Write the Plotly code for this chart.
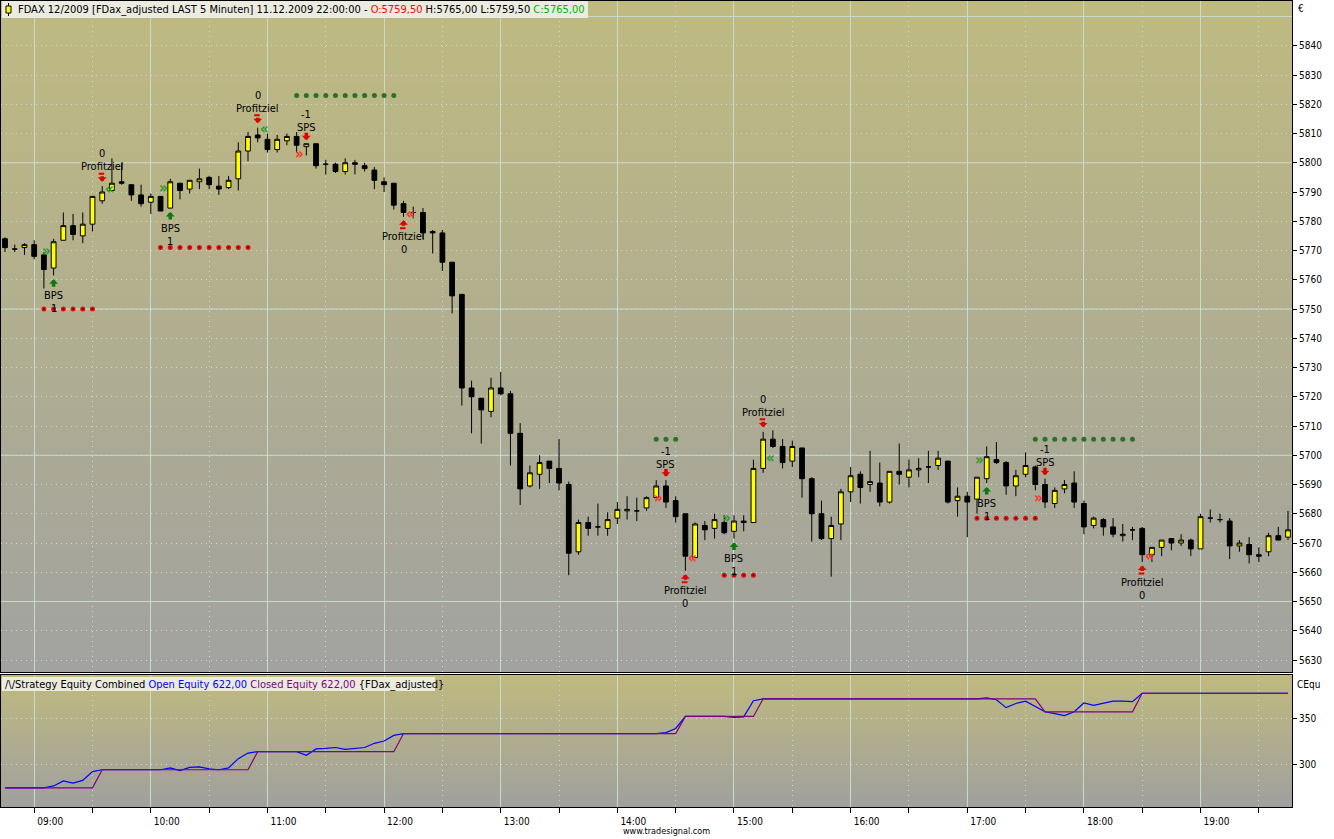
import plotly.graph_objects as go
import pandas as pd

# ---------------- data ----------------
start_time = "2009-12-11 08:45"

opens = [5774, 5770.5, 5771, 5772, 5768.5, 5764, 5773.5, 5778.5, 5775, 5779,
         5787, 5790.5, 5793.5, 5792.5, 5789, 5786.5, 5788.5, 5784.5, 5793, 5791,
         5793.5, 5795, 5792, 5791.5, 5794.5, 5804, 5809.5, 5808, 5804.5, 5807.5,
         5809, 5805.5, 5806.5, 5799.5, 5799.5, 5797, 5800, 5799, 5797.5, 5793.5,
         5793, 5786, 5783, 5783, 5776.5, 5776, 5766, 5755, 5723, 5719.5,
         5715, 5723, 5721, 5707.5, 5689.5, 5693.5, 5698, 5695.5, 5690, 5667,
         5677, 5675.5, 5675, 5678.5, 5681, 5681, 5682, 5685.5, 5689.5, 5684.5,
         5680, 5665, 5676, 5675, 5677, 5674, 5677.5, 5677, 5695.5, 5705.5,
         5703, 5698, 5702.5, 5692, 5680, 5671.5, 5676.5, 5687.5, 5693.5, 5690,
         5690.5, 5684, 5694.5, 5692.5, 5695, 5696, 5696.5, 5698, 5684.5, 5686,
         5685, 5692, 5698.5, 5697.5, 5689.5, 5693.5, 5696, 5690, 5683.5, 5688.5,
         5690.5, 5683.5, 5676, 5678, 5675.5, 5672.5, 5674.5, 5675, 5666, 5668.5,
         5671.5, 5670, 5671, 5668, 5678.5, 5678, 5677.5, 5669, 5669.5, 5666,
         5667, 5672.5, 5672]
highs = [5774.5, 5772, 5772.5, 5773.5, 5769.5, 5774, 5783, 5782.5, 5783, 5788.5,
         5792, 5801.5, 5800, 5792.5, 5792.5, 5789.5, 5788.5, 5794.5, 5793, 5794,
         5798, 5795.5, 5795.5, 5795.5, 5807, 5810.5, 5812, 5810, 5809.5, 5810,
         5810.5, 5806.5, 5806.5, 5801, 5800, 5801.5, 5801, 5800, 5798.5, 5795,
         5793, 5787, 5785, 5784.5, 5777, 5777, 5766, 5755, 5725.5, 5719.5,
         5726.5, 5728.5, 5722, 5711, 5696.5, 5700, 5698, 5705.5, 5691, 5678,
         5679, 5683.5, 5680.5, 5684, 5686, 5685.5, 5686, 5691.5, 5691.5, 5686,
         5680, 5677, 5677.5, 5680, 5679.5, 5679.5, 5679.5, 5698.5, 5708, 5708.5,
         5705.5, 5705, 5702.5, 5692.5, 5684.5, 5679, 5688.5, 5696, 5694.5, 5701.5,
         5697.5, 5694.5, 5704, 5698.5, 5699, 5701.5, 5701.5, 5698, 5689, 5687.5,
         5692.5, 5703, 5704.5, 5698, 5695, 5701, 5696.5, 5692, 5689, 5691.5,
         5694.5, 5684.5, 5679, 5678.5, 5678.5, 5676.5, 5675.5, 5675.5, 5668.5, 5671,
         5671.5, 5673, 5671.5, 5680, 5681.5, 5680, 5678.5, 5671, 5672, 5668.5,
         5673.5, 5675.5, 5681]
lows = [5769.5, 5769.5, 5768.5, 5767, 5757, 5761.5, 5773.5, 5773.5, 5772.5, 5776.5,
        5786, 5790.5, 5792.5, 5787, 5785, 5782.5, 5783.5, 5784.5, 5787.5, 5789.5,
        5791, 5791, 5789, 5791, 5790.5, 5800.5, 5807, 5803.5, 5803.5, 5806,
        5803.5, 5802.5, 5798, 5796, 5796.5, 5796, 5796, 5797, 5791, 5790,
        5784, 5781.5, 5781, 5774, 5769, 5763, 5748.5, 5717, 5707.5, 5704,
        5713, 5720.5, 5696.5, 5683, 5689, 5688.5, 5690.5, 5688, 5659, 5666,
        5672.5, 5672.5, 5672.5, 5676.5, 5678, 5677.5, 5681, 5685.5, 5682, 5677,
        5660.5, 5665, 5671, 5671.5, 5673, 5671.5, 5674, 5677, 5694, 5702.5,
        5695.5, 5696, 5685.5, 5670.5, 5671, 5658.5, 5671, 5684, 5683.5, 5687.5,
        5682.5, 5683.5, 5690, 5689, 5692.5, 5690.5, 5695, 5683.5, 5679, 5672,
        5680, 5690.5, 5697, 5686.5, 5686, 5692.5, 5688, 5682, 5682, 5687,
        5682, 5673, 5675, 5672.5, 5672, 5670.5, 5671, 5663.5, 5663.5, 5665.5,
        5667.5, 5669, 5665.5, 5668, 5677, 5677, 5664.5, 5667, 5663, 5663.5,
        5665.5, 5671, 5671]
closes = [5771, 5770.5, 5772, 5768, 5763.5, 5773, 5778.5, 5775.5, 5779, 5788.5,
          5790, 5793, 5793, 5789, 5786, 5788.5, 5783.5, 5793.5, 5790.5, 5794,
          5794.5, 5792.5, 5791, 5794, 5804, 5809, 5808.5, 5804.5, 5808, 5809,
          5806, 5806.5, 5799, 5799.5, 5797, 5800, 5799.5, 5798, 5794, 5792.5,
          5785.5, 5783, 5783, 5776, 5776, 5766, 5754.5, 5723, 5720, 5715.5,
          5723, 5721, 5707.5, 5688.5, 5694, 5697.5, 5695.5, 5690.5, 5666.5, 5677,
          5675, 5675.5, 5678, 5681.5, 5681.5, 5681, 5685.5, 5689.5, 5684, 5679,
          5665.5, 5676.5, 5674.5, 5678, 5673.5, 5677.5, 5677, 5695.5, 5705.5, 5703,
          5697.5, 5703, 5692, 5680, 5671.5, 5676, 5687.5, 5693, 5689, 5691,
          5684, 5694.5, 5693.5, 5695, 5695.5, 5696, 5699, 5684, 5686, 5684,
          5692.5, 5699.5, 5697.5, 5689.5, 5693, 5696.5, 5690, 5684, 5688, 5690,
          5684, 5675.5, 5678.5, 5675.5, 5673, 5673, 5674.5, 5666, 5668.5, 5671,
          5670, 5671, 5668, 5679, 5678.5, 5678, 5669, 5670, 5666, 5665.5,
          5672.5, 5671, 5674.5]

open_equity = [275, 275, 275, 275, 275, 277, 282.5, 280, 283, 292.5,
               294.5, 294.5, 294.5, 294.5, 294.5, 294.5, 294.5, 296.5, 293.5, 297,
               297.5, 295.5, 294.5, 296.5, 306.5, 312.5, 314, 314, 314, 314,
               314, 310, 317, 317.5, 318.5, 316.5, 317.5, 318.5, 323, 325.5,
               331.5, 333.5, 333.5, 333.5, 333.5, 333.5, 333.5, 333.5, 333.5, 333.5,
               333.5, 333.5, 333.5, 333.5, 333.5, 333.5, 333.5, 333.5, 333.5, 333.5,
               333.5, 333.5, 333.5, 333.5, 333.5, 333.5, 333.5, 333.5, 334.5, 339,
               352, 352, 352, 352, 352, 351, 351.5, 369, 371, 371,
               371, 371, 371, 371, 371, 371, 371, 371, 371, 371,
               371, 371, 371, 371, 371, 371, 371, 371, 371, 371,
               371, 372, 370, 361.5, 366, 368.5, 363, 357, 355, 353,
               357, 366.5, 364, 366, 368.5, 368.5, 368, 377, 377, 377,
               377, 377, 377, 377, 377, 377, 377, 377, 377, 377,
               377, 377, 377]
closed_equity = [275, 275, 275, 275, 275, 275, 275, 275, 275, 275,
                 294.5, 294.5, 294.5, 294.5, 294.5, 294.5, 294.5, 294.5, 294.5, 294.5,
                 294.5, 294.5, 294.5, 294.5, 294.5, 294.5, 314, 314, 314, 314,
                 314, 314, 314, 314, 314, 314, 314, 314, 314, 314,
                 314, 333.5, 333.5, 333.5, 333.5, 333.5, 333.5, 333.5, 333.5, 333.5,
                 333.5, 333.5, 333.5, 333.5, 333.5, 333.5, 333.5, 333.5, 333.5, 333.5,
                 333.5, 333.5, 333.5, 333.5, 333.5, 333.5, 333.5, 333.5, 333.5, 333.5,
                 352, 352, 352, 352, 352, 352, 352, 352, 371, 371,
                 371, 371, 371, 371, 371, 371, 371, 371, 371, 371,
                 371, 371, 371, 371, 371, 371, 371, 371, 371, 371,
                 371, 371, 371, 371, 371, 371, 371, 357, 357, 357,
                 357, 357, 357, 357, 357, 357, 357, 377, 377, 377,
                 377, 377, 377, 377, 377, 377, 377, 377, 377, 377,
                 377, 377, 377]

# trading signals (bar indices and prices)
long_entry_bars = [5, 17, 75, 101]
long_entry_prices = [5770, 5791.5, 5678.5, 5698.5]
short_entry_bars = [31, 68, 107]
short_entry_prices = [5803, 5685.5, 5685.5]
long_exit_bars = [10, 26, 78]
long_exit_prices = [5791, 5811.5, 5699]
short_exit_bars = [41, 70, 117]
short_exit_prices = [5782.5, 5665, 5665.5]

# stop / target dotted levels
level_first = [4, 16, 30, 67, 74, 100, 106]
level_last = [9, 25, 40, 69, 77, 106, 116]
level_price = [5750, 5771, 5823, 5705.5, 5659, 5678.5, 5705.5]
level_kind = ["red", "red", "green", "green", "red", "red", "green"]

price_tick_values = [5630, 5640, 5650, 5660, 5670, 5680, 5690, 5700, 5710, 5720, 5730,
                     5740, 5750, 5760, 5770, 5780, 5790, 5800, 5810, 5820, 5830, 5840]
price_major_lines = [5650, 5700, 5750, 5800, 5850]
equity_tick_values = [300, 350]

header_text = ("FDAX 12/2009 [FDax_adjusted LAST 5 Minuten] 11.12.2009 22:00:00 - "
               "<span style='color:#ff0000'>O:5759,50</span> H:5765,00 L:5759,50 "
               "<span style='color:#00b400'>C:5765,00</span>")
equity_text = ("/\\/Strategy Equity Combined "
               "<span style='color:#0000ff'>Open Equity 622,00</span> "
               "<span style='color:#800080'>Closed Equity 622,00</span> {FDax_adjusted}")

# ---------------- helpers ----------------
times = pd.date_range(start_time, periods=len(opens), freq="5min")
FONT = "Tahoma, 'DejaVu Sans Condensed', 'DejaVu Sans', sans-serif"

W, H = 1334, 839
ML, MR, MT, MB = 1, 42, 1, 32
PW = W - ML - MR
PH = H - MT - MB


def px_x(px):
    return (px - ML) / PW


def px_y(py):
    return (H - MB - py) / PH


main_dom = [px_y(672), 1.0]
eq_dom = [0.0, px_y(675)]

GRID = "#c7dbd0"
DOT = "1px,4px"

fig = go.Figure()

fig.add_trace(go.Candlestick(
    x=times, open=opens, high=highs, low=lows, close=closes,
    increasing=dict(fillcolor="#ffff00", line=dict(color="black", width=1)),
    decreasing=dict(fillcolor="#000000", line=dict(color="black", width=1)),
    whiskerwidth=0, showlegend=False, hoverinfo="skip",
    xaxis="x", yaxis="y"))

# dotted stop/target levels
for f, l, p, k in zip(level_first, level_last, level_price, level_kind):
    xs = list(times[f:l + 1])
    ys = [p] * len(xs)
    outer = "#e01010" if k == "red" else "#1e7a1e"
    inner = "#6a0000" if k == "red" else "#8a2a9a"
    fig.add_trace(go.Scatter(x=xs, y=ys, mode="markers", showlegend=False, hoverinfo="skip",
                             marker=dict(size=5, color=outer), xaxis="x", yaxis="y"))
    fig.add_trace(go.Scatter(x=xs, y=ys, mode="markers", showlegend=False, hoverinfo="skip",
                             marker=dict(size=2, color=inner), xaxis="x", yaxis="y"))

# equity lines
fig.add_trace(go.Scatter(x=times, y=open_equity, mode="lines", showlegend=False, hoverinfo="skip",
                         line=dict(color="#0000ff", width=1.2), xaxis="x2", yaxis="y2"))
fig.add_trace(go.Scatter(x=times, y=closed_equity, mode="lines", showlegend=False, hoverinfo="skip",
                         line=dict(color="#800080", width=1.2), xaxis="x2", yaxis="y2"))

ann = []


def label(x, y, text, yshift, color="black", size=11, xshift=0):
    ann.append(dict(x=x, y=y, xref="x", yref="y", text=text, showarrow=False,
                    yshift=yshift, xshift=xshift,
                    font=dict(family=FONT, size=size, color=color)))


def arrow(x, y, up, yshift, color, length=9):
    ann.append(dict(x=x, y=y, xref="x", yref="y", text="", showarrow=True,
                    ax=0, ay=length if up else -length, yshift=yshift,
                    arrowhead=1, arrowsize=0.42, arrowwidth=3.5, arrowcolor=color))


def tailbar(x, y, yshift, color):
    # short horizontal bar at the tail of a "Profitziel" arrow
    ann.append(dict(x=x, y=y, xref="x", yref="y", text="", showarrow=True,
                    ax=7, ay=0, xshift=-3.5, yshift=yshift,
                    arrowhead=0, arrowwidth=2, arrowcolor=color))


GREEN = "#0b7a0b"
RED = "#e00000"

for b in long_entry_bars:
    arrow(times[b], lows[b], True, -4, GREEN, 9)
    label(times[b], lows[b], "BPS", -20)
    label(times[b], lows[b], "1", -33)
for b in short_entry_bars:
    arrow(times[b], highs[b], False, 3.5, RED, 9)
    label(times[b], highs[b], "SPS", 16)
    label(times[b], highs[b], "-1", 29)
for b in long_exit_bars:
    arrow(times[b], highs[b], False, 4.5, RED, 7)
    tailbar(times[b], highs[b], 12.5, RED)
    label(times[b], highs[b], "Profitziel", 19.5)
    label(times[b], highs[b], "0", 32.5)
for b in short_exit_bars:
    arrow(times[b], lows[b], True, -3.5, RED, 7)
    tailbar(times[b], lows[b], -11.5, RED)
    label(times[b], lows[b], "Profitziel", -20)
    label(times[b], lows[b], "0", -33)

for b, p in zip(long_entry_bars, long_entry_prices):
    label(times[b], p, "<b>»</b>", 0, "#2a9a2a", 15, -7)
for b, p in zip(short_entry_bars, short_entry_prices):
    label(times[b], p, "<b>»</b>", 0, "#ff3030", 15, -7)
for b, p in zip(long_exit_bars, long_exit_prices):
    label(times[b], p, "<b>«</b>", 0, "#2a9a2a", 15, 7)
for b, p in zip(short_exit_bars, short_exit_prices):
    label(times[b], p, "<b>«</b>", 0, "#ff3030", 15, 7)

# header & panel captions
ann.append(dict(xref="paper", yref="paper", x=px_x(16), y=px_y(9.5), xanchor="left", yanchor="middle",
                text=header_text, showarrow=False, font=dict(family=FONT, size=11, color="black")))
ann.append(dict(xref="paper", yref="paper", x=px_x(3), y=px_y(684), xanchor="left", yanchor="middle",
                text=equity_text, showarrow=False, font=dict(family=FONT, size=11, color="black")))
ann.append(dict(xref="paper", yref="paper", x=px_x(1296), y=px_y(9), xanchor="left", yanchor="middle",
                text="€", showarrow=False, font=dict(family=FONT, size=10, color="black")))
ann.append(dict(xref="paper", yref="paper", x=px_x(1295), y=px_y(684), xanchor="left", yanchor="middle",
                text="CEqu", showarrow=False, font=dict(family=FONT, size=10, color="black")))
ann.append(dict(xref="paper", yref="paper", x=px_x(666), y=px_y(831), xanchor="center", yanchor="middle",
                text="www.tradesignal.com", showarrow=False, font=dict(family=FONT, size=9, color="black")))

# ---------------- shapes: gradients, major grid, caption boxes ----------------
shapes = []


def gradient(dom, top_rgb, bot_rgb, n=48):
    y0, y1 = dom
    for k in range(n):
        t = (k + 0.5) / n
        c = [round(top_rgb[j] + (bot_rgb[j] - top_rgb[j]) * t) for j in range(3)]
        shapes.append(dict(type="rect", xref="paper", yref="paper", x0=0, x1=1,
                           y0=y1 - (y1 - y0) * (k + 1) / n - 0.0005, y1=y1 - (y1 - y0) * k / n,
                           fillcolor="rgb(%d,%d,%d)" % tuple(c), line=dict(width=0), layer="below"))


gradient(main_dom, (191, 186, 128), (162, 162, 160))
gradient(eq_dom, (192, 186, 126), (160, 160, 159))

for v in price_major_lines:
    shapes.append(dict(type="line", xref="paper", yref="y", x0=0, x1=1, y0=v, y1=v,
                       line=dict(color=GRID, width=1), layer="below"))

# caption boxes
shapes.append(dict(type="rect", xref="paper", yref="paper", x0=px_x(2), x1=px_x(588),
                   y0=px_y(18), y1=px_y(1), fillcolor="#ecebe0", line=dict(width=0), layer="above"))
shapes.append(dict(type="rect", xref="paper", yref="paper", x0=px_x(2), x1=px_x(435),
                   y0=px_y(691), y1=px_y(677), fillcolor="#ecebe0", line=dict(width=0), layer="above"))
# small candle icon in header
shapes.append(dict(type="line", xref="paper", yref="paper", x0=px_x(8.5), x1=px_x(8.5),
                   y0=px_y(16), y1=px_y(3), line=dict(color="black", width=1), layer="above"))
shapes.append(dict(type="rect", xref="paper", yref="paper", x0=px_x(6), x1=px_x(11),
                   y0=px_y(13), y1=px_y(6), fillcolor="#ffff00", line=dict(color="black", width=1),
                   layer="above"))

xr = ["2009-12-11 08:42:56", "2009-12-11 19:47:03"]
common_x = dict(type="date", range=xr, dtick=3600000, tick0="2009-12-11 09:00",
                showgrid=True, gridcolor=GRID, gridwidth=1,
                showline=True, linecolor="black", linewidth=1, mirror=True,
                zeroline=False, fixedrange=True,
                minor=dict(dtick=1800000, tick0="2009-12-11 09:00", showgrid=True,
                           gridcolor=GRID, griddash=DOT, gridwidth=1))

fig.update_layout(
    width=W, height=H,
    margin=dict(l=ML, r=MR, t=MT, b=MB),
    paper_bgcolor="#ffffff", plot_bgcolor="#b0ae98",
    showlegend=False,
    font=dict(family=FONT, size=10, color="black"),
    xaxis=dict(common_x, anchor="y", showticklabels=False, ticks="",
               rangeslider=dict(visible=False)),
    xaxis2=dict(common_x, anchor="y2", matches="x", showticklabels=True,
                ticks="outside", ticklen=5, tickcolor="black", tickformat="%H:%M",
                ticklabelshift=16, tickfont=dict(family=FONT, size=10, color="black"),
                minor=dict(dtick=1800000, tick0="2009-12-11 09:00", showgrid=True,
                           gridcolor=GRID, griddash=DOT, gridwidth=1,
                           ticks="outside", ticklen=5, tickcolor="black")),
    yaxis=dict(domain=main_dom, range=[5625.9, 5855.3], side="right",
               tickmode="array", tickvals=price_tick_values,
               showgrid=True, gridcolor=GRID, griddash=DOT, gridwidth=1,
               ticks="outside", ticklen=4, tickcolor="black",
               showline=True, linecolor="black", linewidth=1, mirror=True,
               zeroline=False, fixedrange=True, tickformat="d",
               tickfont=dict(family=FONT, size=10, color="black")),
    yaxis2=dict(domain=eq_dom, range=[254.3, 396.7], side="right",
                tickmode="array", tickvals=equity_tick_values,
                showgrid=True, gridcolor=GRID, griddash=DOT, gridwidth=1,
                ticks="outside", ticklen=4, tickcolor="black",
                showline=True, linecolor="black", linewidth=1, mirror=True,
                zeroline=False, fixedrange=True,
                tickfont=dict(family=FONT, size=10, color="black")),
    annotations=ann,
    shapes=shapes,
)

fig.write_html("out.html", config={"displayModeBar": False},
               post_script="document.body.style.margin='0';")
